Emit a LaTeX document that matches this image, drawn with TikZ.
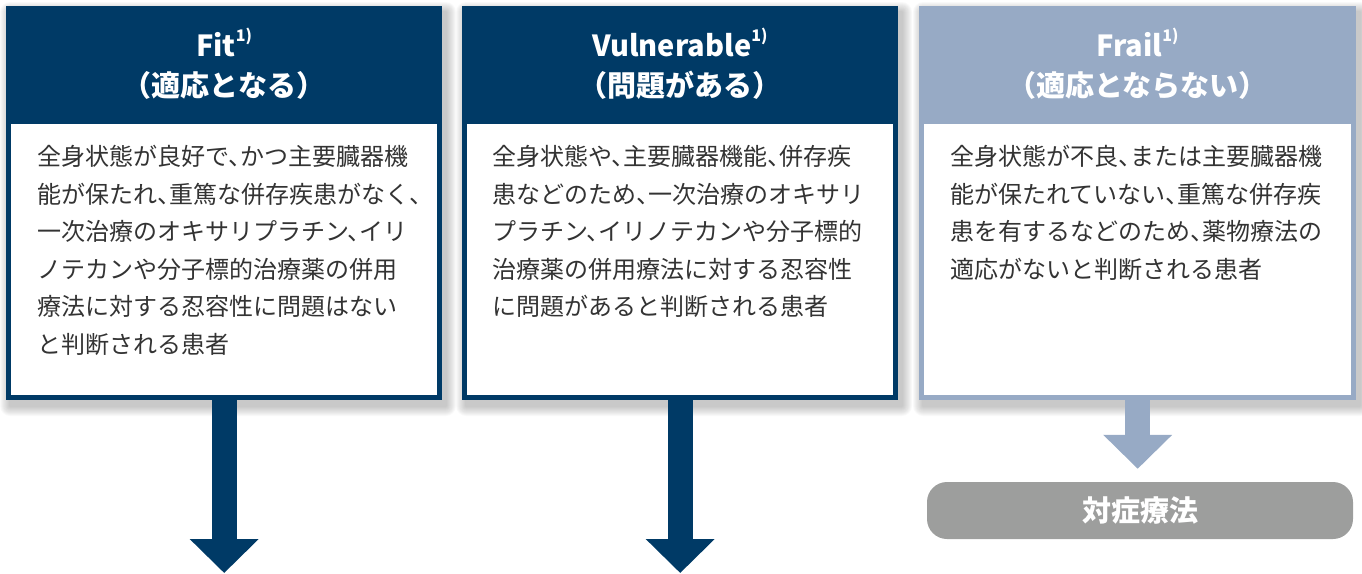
\documentclass[tikz,border=0pt]{standalone}
\usepackage{fontspec}
\setmainfont{Noto Sans CJK JP}
\newfontfamily\bodyfont[RawFeature=+halt]{Noto Sans CJK JP}
\newfontfamily\titlefont[RawFeature=+halt]{Noto Sans CJK JP}
\usetikzlibrary{arrows.meta}
\definecolor{navy}{HTML}{003A66}
\definecolor{frailc}{HTML}{97AAC5}
\definecolor{bodyc}{HTML}{333333}
\definecolor{pillc}{HTML}{9D9E9D}
\newcommand{\softshadow}[4]{%
  \foreach \i in {1,...,10}{%
    \fill[black,opacity=0.022,rounded corners=\i pt]
      (#1+4-\i,#2+6-\i) rectangle (#3+4+\i,#4+6+\i);}}
\begin{document}
\begin{tikzpicture}[x=1pt,y=-1pt,
  outerbox/.style={minimum width=436pt,minimum height=394pt,inner sep=0pt,anchor=north west},
  innerbox/.style={fill=white,minimum width=426pt,minimum height=271pt,inner sep=0pt,anchor=north west},
  titletext/.style={text=white,align=center,font=\titlefont\bfseries\fontsize{29}{40}\selectfont},
  bodytext/.style={text=bodyc,align=left,anchor=north west,inner sep=0pt,font=\bodyfont\fontsize{24}{37.6}\selectfont},
  bigarrow/.style={line width=25pt,-{Triangle[length=34pt,width=67pt]}},
  pillbox/.style={fill=pillc,rounded corners=20pt,minimum width=426pt,minimum height=57pt,inner sep=0pt,text=white,font=\titlefont\bfseries\fontsize{29}{32}\selectfont}
]
\useasboundingbox (0,0) rectangle (1362,573);
\softshadow{6}{6}{442}{400}
\softshadow{462}{6}{898}{400}
\softshadow{919}{6}{1356}{400}

% Box 1
\node[outerbox,fill=navy] (fitbox) at (6,6) {};
\node[innerbox] (fitbody) at (11,124) {};
\node[titletext] (fittitle) at (224,64) {Fit\raisebox{0.5em}{\fontsize{16}{16}\selectfont 1)}\\（適応となる）};
\node[bodytext] (fittext) at (37,145) {全身状態が良好で、かつ主要臓器機\\能が保たれ、重篤な併存疾患がなく、\\一次治療のオキサリプラチン、イリ\\ノテカンや分子標的治療薬の併用\\療法に対する忍容性に問題はない\\と判断される患者};

% Box 2
\node[outerbox,fill=navy] (vulbox) at (462,6) {};
\node[innerbox] (vulbody) at (467,124) {};
\node[titletext] (vultitle) at (680,64) {Vulnerable\raisebox{0.5em}{\fontsize{16}{16}\selectfont 1)}\\（問題がある）};
\node[bodytext] (vultext) at (492,145) {全身状態や、主要臓器機能、併存疾\\患などのため、一次治療のオキサリ\\プラチン、イリノテカンや分子標的\\治療薬の併用療法に対する忍容性\\に問題があると判断される患者};

% Box 3
\node[outerbox,fill=frailc,minimum width=437pt] (frailbox) at (919,6) {};
\node[innerbox,minimum width=427pt] (frailbody) at (924,124) {};
\node[titletext] (frailtitle) at (1137.5,64) {Frail\raisebox{0.5em}{\fontsize{16}{16}\selectfont 1)}\\（適応とならない）};
\node[bodytext] (frailtext) at (950,145) {全身状態が不良、または主要臓器機\\能が保たれていない、重篤な併存疾\\患を有するなどのため、薬物療法の\\適応がないと判断される患者};

% Pill
\node[pillbox] (pill) at (1140,510.5) {対症療法};

% Arrows
\coordinate (fitend) at (224,573);
\coordinate (vulend) at (680,573);
\coordinate (frailtip) at ([yshift=13pt]pill.north);
\draw[bigarrow,navy] (fitbox.south) -- (fitbox.south |- fitend);
\draw[bigarrow,navy] (vulbox.south) -- (vulbox.south |- vulend);
\draw[bigarrow,frailc] (frailbox.south) -- (frailbox.south |- frailtip);
\end{tikzpicture}
\end{document}
